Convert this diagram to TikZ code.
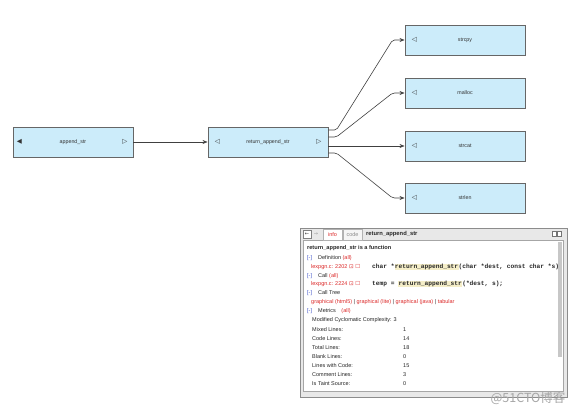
\documentclass[tikz,border=0pt]{standalone}
\usepackage{fontspec}
\setmainfont{Liberation Sans}
\setmonofont{Liberation Mono}
\newfontfamily\symfont{DejaVu Sans}
\newfontfamily\cjkfont{Noto Sans CJK SC}
\usetikzlibrary{positioning, arrows.meta}

\newcommand{\codehl}[1]{{\setlength{\fboxsep}{0.4pt}\colorbox{hlyellow}{#1}}}

\begin{document}
\begin{tikzpicture}[x=1pt, y=-1pt,
  funcbox/.style={draw=black!60, fill=funcblue, line width=0.9pt, minimum width=120pt, minimum height=30pt, inner sep=0pt, text=black!80, font=\fontsize{5.3}{6}\selectfont},
  tri/.style={inner sep=0pt, text=black!80, font=\symfont\fontsize{6.5}{7}\selectfont},
  call/.style={draw=black!75, line width=0.6pt, rounded corners=2pt, -{Stealth[length=5pt, width=4pt]}},
  infotext/.style={anchor=west, inner sep=0pt, text=black!85, font=\fontsize{5.5}{6}\selectfont},
  codetext/.style={anchor=west, inner sep=0pt, text=black!85, font=\ttfamily\bfseries\fontsize{6.2}{6}\selectfont},
  sign/.style={anchor=west, inner sep=0pt, text=signblue, font=\fontsize{5.5}{6}\selectfont},
]
% Define the custom colors
  \definecolor{funcblue}{RGB}{204,236,250}
  \definecolor{linkred}{RGB}{220,40,40}
  \definecolor{signblue}{RGB}{60,80,200}
  \definecolor{hlyellow}{RGB}{245,238,200}

  \useasboundingbox (0,0) rectangle (582,414);

  % call graph
  \node[funcbox] (append) at (73,142) {append\_str};
  \node[funcbox] (retappend) at (268,142) {return\_append\_str};
  \node[funcbox] (strcpy) at (465,40) {strcpy};
  \node[funcbox] (malloc) at (465,93) {malloc};
  \node[funcbox] (strcat) at (465,146) {strcat};
  \node[funcbox] (strlen) at (465,198) {strlen};

  \node[tri] (append-in) [right=4pt of append.west] {◀};
  \node[tri] (append-out) [left=6pt of append.east] {▷};
  \node[tri] (retappend-in) [right=7pt of retappend.west] {◁};
  \node[tri] (retappend-out) [left=7pt of retappend.east] {▷};
  \node[tri] (strcpy-in) [right=7pt of strcpy.west] {◁};
  \node[tri] (malloc-in) [right=7pt of malloc.west] {◁};
  \node[tri] (strcat-in) [right=7pt of strcat.west] {◁};
  \node[tri] (strlen-in) [right=7pt of strlen.west] {◁};

  \draw[call] (append) -- (retappend);
  \draw[call] ([yshift=12pt]retappend.east) -- ++(8,0) -- ([xshift=-12pt]strcpy.west) -- (strcpy.west);
  \draw[call] ([yshift=5pt]retappend.east) -- ++(8,0) -- ([xshift=-12pt]malloc.west) -- (malloc.west);
  \draw[call] ([yshift=-4pt]retappend.east) -- (strcat.west);
  \draw[call] ([yshift=-11pt]retappend.east) -- ++(8,0) -- ([xshift=-12pt]strlen.west) -- (strlen.west);

  % info panel
  \filldraw[fill=black!9, draw=black!45] (300,228) rectangle (567,397);
  \filldraw[fill=white, draw=black!35] (303,240) rectangle (563,391);
  \fill[black!22] (558,242) rectangle (562,357);

  \filldraw[fill=white, draw=black!50] (303,230) rectangle (311,238);
  \node[tri, font=\symfont\fontsize{5}{5}\selectfont] (backbtn) at (307,234) {←};
  \node[tri, text=black!40, font=\symfont\fontsize{5}{5}\selectfont] (fwdbtn) at (316,234) {→};
  \filldraw[fill=white, draw=black!30] (323,229) rectangle (342,240);
  \node[infotext, anchor=center, text=linkred] (infotab) at (332.5,235) {info};
  \filldraw[fill=black!4, draw=black!30] (343,229) rectangle (362,240);
  \node[infotext, anchor=center, text=black!45] (codetab) at (352.5,235) {code};
  \node[infotext, font=\bfseries\fontsize{5.8}{6}\selectfont] (paneltitle) at (366,234) {return\_append\_str};
  \draw[black!55, fill=white] (552,231) rectangle (556,236);
  \draw[black!55, fill=white] (557,231) rectangle (561,236);

  \node[infotext, font=\bfseries\fontsize{5.6}{6}\selectfont] (fnhead) at (307,248) {return\_append\_str is a function};

  \node[sign] (defsign) at (307,258) {[-]};
  \node[infotext] (deftitle) at (318,258) {Definition \textcolor{linkred}{(all)}};
  \node[infotext, text=linkred] (defloc) at (311,267) {lexpgn.c: 2202 {\symfont ⊡ ☐}};
  \node[codetext] (defcode) at (372,267) {char *\codehl{return\_append\_str}(char *dest, const char *s)};

  \node[sign] (callsign) at (307,276) {[-]};
  \node[infotext] (calltitle) at (318,276) {Call \textcolor{linkred}{(all)}};
  \node[infotext, text=linkred] (callloc) at (311,284) {lexpgn.c: 2224 {\symfont ⊡ ☐}};
  \node[codetext] (callcode) at (372,284) {temp = \codehl{return\_append\_str}(*dest, s);};

  \node[sign] (treesign) at (307,293) {[-]};
  \node[infotext] (treetitle) at (318,293) {Call Tree};
  \node[infotext, text=linkred] (treelinks) at (311,302) {graphical (html5) \textcolor{black!80}{|} graphical (lite) \textcolor{black!80}{|} graphical (java) \textcolor{black!80}{|} tabular};

  \node[sign] (metricsign) at (307,311) {[-]};
  \node[infotext] (metrictitle) at (318,311) {Metrics\quad\textcolor{linkred}{(all)}};

  \node[infotext] (cyclo) at (312,320) {Modified Cyclomatic Complexity: 3};
  \node[infotext] (mixed) at (312,330) {Mixed Lines:};
  \node[infotext] (mixed-val) at (403,330) {1};
  \node[infotext] (code) at (312,339) {Code Lines:};
  \node[infotext] (code-val) at (403,339) {14};
  \node[infotext] (total) at (312,348) {Total Lines:};
  \node[infotext] (total-val) at (403,348) {18};
  \node[infotext] (blank) at (312,357) {Blank Lines:};
  \node[infotext] (blank-val) at (403,357) {0};
  \node[infotext] (withcode) at (312,366) {Lines with Code:};
  \node[infotext] (withcode-val) at (403,366) {15};
  \node[infotext] (comment) at (312,375) {Comment Lines:};
  \node[infotext] (comment-val) at (403,375) {3};
  \node[infotext] (taint) at (312,384) {Is Taint Source:};
  \node[infotext] (taint-val) at (403,384) {0};

  \node[text=black!35, font=\cjkfont\fontsize{12.5}{12}\selectfont] (watermark) at (528,398) {@51CTO博客};

\end{tikzpicture}
\end{document}
